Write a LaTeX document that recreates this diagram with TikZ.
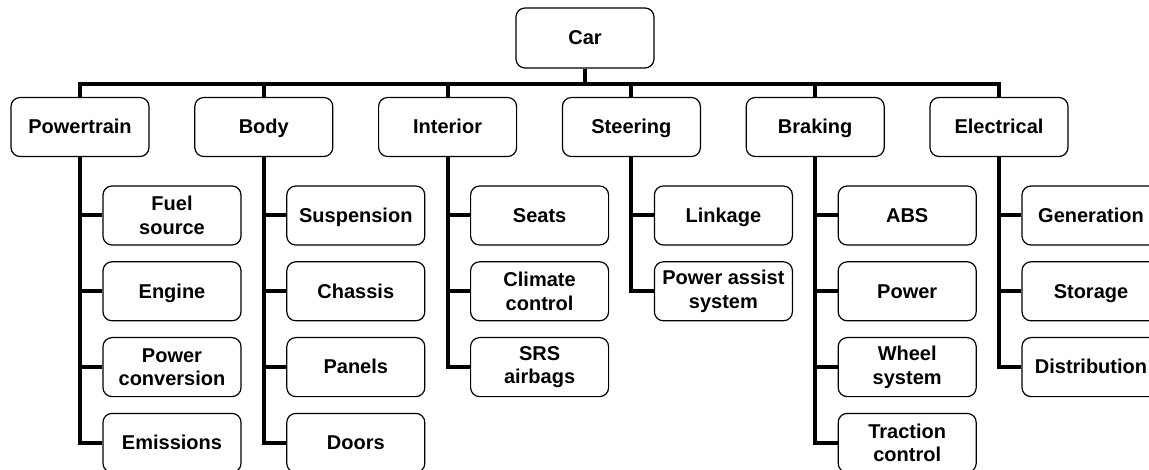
\documentclass[tikz,border=0pt]{standalone}
\usepackage{fontspec}
\setmainfont{Liberation Sans}
\begin{document}
\begin{tikzpicture}[x=1pt,y=-1pt,
  box/.style={draw=black, line width=1.2pt, rounded corners=9pt, fill=white,
    minimum width=138pt, minimum height=59pt, inner sep=2pt, align=center,
    font=\fontsize{20}{23.5}\selectfont\bfseries},
  one/.style={box, text height=14.3pt, text depth=0.7pt},
  bus/.style={line width=4pt, line join=miter}]
\useasboundingbox (0,0) rectangle (1149,470);
\clip (0,0) rectangle (1149,470);

% root
\node[one, minimum height=60pt] (car) at (585,38) {Car};

% first level
\node[one] (pt) at (80,127) {Powertrain};
\node[one] (bd) at (263.8,127) {Body};
\node[one] (in) at (447.6,127) {Interior};
\node[one] (st) at (631.4,127) {Steering};
\node[one] (br) at (815.2,127) {Braking};
\node[one] (el) at (999,127) {Electrical};

% second level
\node[box] (pt1) at (172,215.5) {Fuel\\source};
\node[one] (pt2) at (172,291.3) {Engine};
\node[box] (pt3) at (172,367.1) {Power\\conversion};
\node[one] (pt4) at (172,442.9) {Emissions};

\node[one] (bd1) at (355.8,215.5) {Suspension};
\node[one] (bd2) at (355.8,291.3) {Chassis};
\node[one] (bd3) at (355.8,367.1) {Panels};
\node[one] (bd4) at (355.8,442.9) {Doors};

\node[one] (in1) at (539.6,215.5) {Seats};
\node[box] (in2) at (539.6,291.3) {Climate\\control};
\node[box] (in3) at (539.6,367.1) {SRS\\airbags};

\node[one] (st1) at (723.4,215.5) {Linkage};
\node[box] (st2) at (723.4,291.3) {Power assist\\system};

\node[one] (br1) at (907.2,215.5) {ABS};
\node[one] (br2) at (907.2,291.3) {Power};
\node[box] (br3) at (907.2,367.1) {Wheel\\system};
\node[box] (br4) at (907.2,442.9) {Traction\\control};

\node[one] (el1) at (1091,215.5) {Generation};
\node[one] (el2) at (1091,291.3) {Storage};
\node[one] (el3) at (1091,367.1) {Distribution};

% root to first level
\foreach \n in {pt,bd,in,st,br,el}
  \draw[bus] (car.south) -- ++(0,15) -| (\n.north);

% first level to second level
\foreach \p/\c in {pt/pt1,pt/pt2,pt/pt3,pt/pt4,
                   bd/bd1,bd/bd2,bd/bd3,bd/bd4,
                   in/in1,in/in2,in/in3,
                   st/st1,st/st2,
                   br/br1,br/br2,br/br3,br/br4,
                   el/el1,el/el2,el/el3}
  \draw[bus] (\p.south) |- (\c.west);
\end{tikzpicture}
\end{document}
